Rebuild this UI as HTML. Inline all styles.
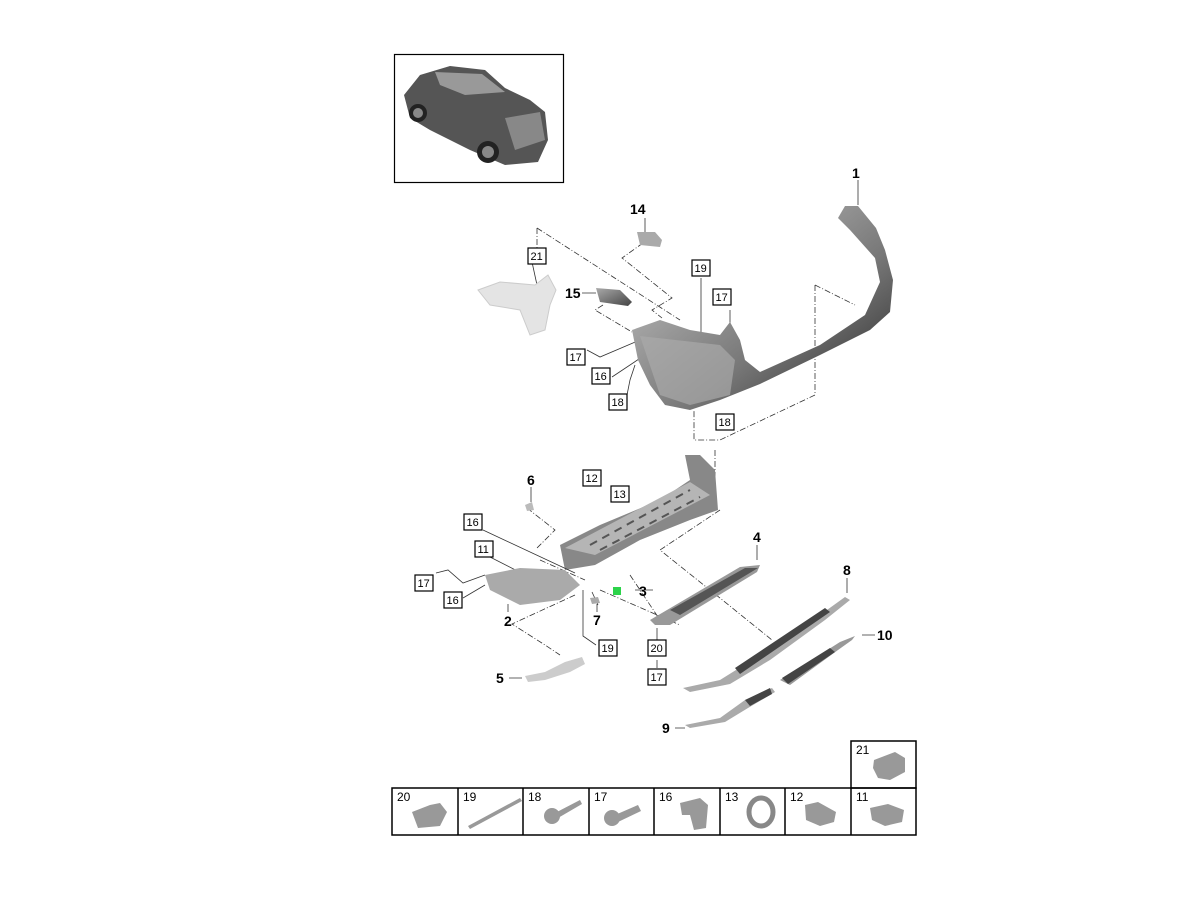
<!DOCTYPE html>
<html><head><meta charset="utf-8"><style>
body{margin:0;background:#fff;}
svg{display:block;font-family:"Liberation Sans",Arial,sans-serif;}
.b{font-weight:bold;font-size:14px;}
.s{font-size:11px;}
.d{stroke:#333;stroke-width:0.8;fill:none;stroke-dasharray:6,2,1,2;}
.l{stroke:#333;stroke-width:0.8;fill:none;}
.bx{fill:#fff;stroke:#000;stroke-width:1.2;}
</style></head><body>
<svg width="1200" height="900" viewBox="0 0 1200 900">
<defs>
<linearGradient id="g1" x1="0" y1="0" x2="1" y2="1"><stop offset="0" stop-color="#d0d0d0"/><stop offset="0.6" stop-color="#777"/><stop offset="1" stop-color="#222"/></linearGradient>
<linearGradient id="g2" x1="0" y1="0" x2="1" y2="1"><stop offset="0" stop-color="#aaa"/><stop offset="1" stop-color="#444"/></linearGradient>
</defs>
<rect x="394.5" y="54.5" width="169" height="128" fill="#fff" stroke="#000" stroke-width="1.2"/>
<path d="M404,95 L420,75 L450,66 L485,70 L505,88 L530,100 L545,112 L548,140 L538,162 L505,165 L470,150 L430,130 L410,118 Z" fill="#555"/>
<path d="M435,72 L482,74 L505,92 L465,95 L440,85 Z" fill="#999"/>
<path d="M505,118 L540,112 L545,140 L515,150 Z" fill="#888"/>
<circle cx="418" cy="113" r="9" fill="#222"/><circle cx="488" cy="152" r="11" fill="#222"/>
<circle cx="418" cy="113" r="5" fill="#888"/><circle cx="488" cy="152" r="6" fill="#888"/>
<path class="d" d="M537,228 L680,320"/>
<path class="d" d="M537,228 L537,248"/>
<path class="d" d="M643,243 L622,258 L672,298 L652,310 L662,318"/>
<path class="d" d="M603,305 L595,310 L632,332"/>
<path class="d" d="M815,285 L815,395"/>
<path class="d" d="M815,285 L855,305"/>
<path class="d" d="M815,395 L720,440 L694,440 L694,410"/>
<path class="d" d="M715,450 L715,510"/>
<path class="l" d="M730,330 L730,310 M701,278 L701,335 M532,262 L537,285"/>
<path class="l" d="M587,350 L600,357 L640,340 M612,377 L645,355 M626,400 L630,380 L635,365"/>
<path d="M478,290 L500,282 L535,285 L548,275 L556,290 L550,305 L545,330 L530,335 L520,310 L490,305 Z" fill="#e4e4e4" stroke="#ccc"/>
<path d="M637,232 L655,232 L662,240 L660,247 L640,245 Z" fill="#aaa"/>
<path d="M596,288 L620,290 L632,302 L628,306 L600,302 Z" fill="url(#g2)"/>
<path d="M632,330 L660,320 L690,330 L720,335 L730,322 L740,340 L745,360 L760,372 L820,345 L865,315 L880,282 L875,258 L850,230 L838,218 L845,206 L858,206 L876,228 L885,250 L893,280 L890,312 L870,330 L820,355 L760,384 L720,400 L690,410 L665,405 L650,385 L638,360 Z" fill="url(#g1)"/>
<path d="M640,336 L720,345 L735,360 L730,395 L690,405 L660,395 Z" fill="#aaa" opacity="0.7"/>
<path d="M560,545 L600,525 L660,500 L690,480 L685,455 L700,455 L715,470 L718,510 L690,520 L640,540 L595,565 L565,570 Z" fill="#888"/>
<path d="M565,548 L690,482 L710,495 L595,555 Z" fill="#b5b5b5"/>
<path d="M590,545 L690,490 M600,550 L700,497" stroke="#555" stroke-width="2" stroke-dasharray="8,6"/>
<path class="d" d="M527,508 L555,530 L537,548"/>
<path class="l" d="M483,530 L575,573 M490,557 L545,585 M436,573 L448,570 L463,583 L485,575 M463,598 L485,585"/>
<path class="d" d="M540,560 L585,580"/>
<path class="d" d="M575,595 L512,624 L545,645 L560,655"/>
<path class="d" d="M630,575 L660,620 M600,590 L680,625"/>
<path class="d" d="M720,510 L660,550 L710,590 L772,640"/>
<path class="l" d="M583,590 L583,636 L596,645 M592,592 L598,605 M657,628 L657,640 M657,660 L657,668"/>
<path d="M485,575 L520,568 L565,570 L580,585 L560,600 L520,605 L490,590 Z" fill="#aaa"/>
<path d="M525,505 L532,502 L534,510 L527,511 Z" fill="#bbb"/>
<path d="M590,598 L598,597 L600,603 L592,604 Z" fill="#aaa"/>
<rect x="613" y="587" width="8" height="8" fill="#2cd34a"/>
<path d="M650,620 L740,567 L760,565 L757,572 L670,625 L655,625 Z" fill="#999"/>
<path d="M670,610 L745,568 L758,568 L680,615 Z" fill="#555"/>
<path d="M683,688 L720,680 L760,655 L820,615 L845,597 L850,600 L825,620 L770,660 L730,684 L690,692 Z" fill="#aaa"/>
<path d="M735,668 L825,608 L830,612 L740,674 Z" fill="#444"/>
<path d="M780,680 L840,642 L855,636 L852,640 L838,650 L790,685 Z" fill="#999"/>
<path d="M782,678 L830,648 L835,652 L788,684 Z" fill="#444"/>
<path d="M685,725 L720,718 L745,700 L772,688 L775,692 L748,708 L725,722 L690,728 Z" fill="#aaa"/>
<path d="M745,700 L770,688 L772,694 L750,706 Z" fill="#444"/>
<path d="M525,676 L545,672 L565,662 L582,657 L585,664 L570,672 L545,680 L528,682 Z" fill="#ccc"/>
<path class="l" d="M858,180 L858,205 M645,218 L645,232 M582,293 L596,293 M531,487 L531,502 M757,545 L757,560 M847,578 L847,593 M653,590 L635,590 M597,604 L597,612 M508,604 L508,612 M862,635 L875,635 M509,678 L522,678 M675,728 L685,728"/>
<g class="b">
<text x="852" y="178">1</text><text x="630" y="214">14</text><text x="565" y="298">15</text>
<text x="527" y="485">6</text><text x="753" y="542">4</text><text x="843" y="575">8</text>
<text x="639" y="596">3</text><text x="593" y="625">7</text><text x="504" y="626">2</text>
<text x="877" y="640">10</text><text x="496" y="683">5</text><text x="662" y="733">9</text>
</g>
<g class="s">
<rect class="bx" x="528" y="248" width="18" height="16"/><text x="530.5" y="260">21</text>
<rect class="bx" x="692" y="260" width="18" height="16"/><text x="694.5" y="272">19</text>
<rect class="bx" x="713" y="289" width="18" height="16"/><text x="715.5" y="301">17</text>
<rect class="bx" x="567" y="349" width="18" height="16"/><text x="569.5" y="361">17</text>
<rect class="bx" x="592" y="368" width="18" height="16"/><text x="594.5" y="380">16</text>
<rect class="bx" x="609" y="394" width="18" height="16"/><text x="611.5" y="406">18</text>
<rect class="bx" x="716" y="414" width="18" height="16"/><text x="718.5" y="426">18</text>
<rect class="bx" x="583" y="470" width="18" height="16"/><text x="585.5" y="482">12</text>
<rect class="bx" x="611" y="486" width="18" height="16"/><text x="613.5" y="498">13</text>
<rect class="bx" x="464" y="514" width="18" height="16"/><text x="466.5" y="526">16</text>
<rect class="bx" x="475" y="541" width="18" height="16"/><text x="477.5" y="553">11</text>
<rect class="bx" x="415" y="575" width="18" height="16"/><text x="417.5" y="587">17</text>
<rect class="bx" x="444" y="592" width="18" height="16"/><text x="446.5" y="604">16</text>
<rect class="bx" x="599" y="640" width="18" height="16"/><text x="601.5" y="652">19</text>
<rect class="bx" x="648" y="640" width="18" height="16"/><text x="650.5" y="652">20</text>
<rect class="bx" x="648" y="669" width="18" height="16"/><text x="650.5" y="681">17</text>
</g>
<g fill="none" stroke="#000" stroke-width="1.5">
<rect x="392" y="788" width="524" height="47"/>
<rect x="851" y="741" width="65" height="47"/>
<path d="M458,788V835M523,788V835M589,788V835M654,788V835M720,788V835M785,788V835M851,788V835"/>
</g>
<g font-size="12">
<text x="397" y="801">20</text><text x="463" y="801">19</text><text x="528" y="801">18</text><text x="594" y="801">17</text>
<text x="659" y="801">16</text><text x="725" y="801">13</text><text x="790" y="801">12</text><text x="856" y="801">11</text>
<text x="856" y="754">21</text>
</g>
<g fill="#999">
<path d="M412,812 L430,805 L440,803 L447,812 L440,826 L418,828 Z"/>
<path d="M468,826 L520,798 L522,801 L470,829 Z"/>
<circle cx="552" cy="816" r="8"/><path d="M555,813 L580,800 L582,804 L558,818 Z"/>
<circle cx="612" cy="818" r="8"/><path d="M615,815 L638,805 L641,811 L618,822 Z"/>
<path d="M680,803 L700,798 L708,805 L706,828 L694,830 L690,815 L682,815 Z"/>
<ellipse cx="761" cy="812" rx="12" ry="14" fill="none" stroke="#888" stroke-width="5"/>
<path d="M805,805 L818,802 L836,812 L834,822 L820,826 L806,820 Z"/>
<path d="M870,808 L888,804 L904,810 L902,822 L885,826 L872,820 Z"/>
<path d="M874,760 L895,752 L905,758 L905,772 L890,780 L878,778 L873,768 Z"/>
</g>
</svg>
</body></html>
